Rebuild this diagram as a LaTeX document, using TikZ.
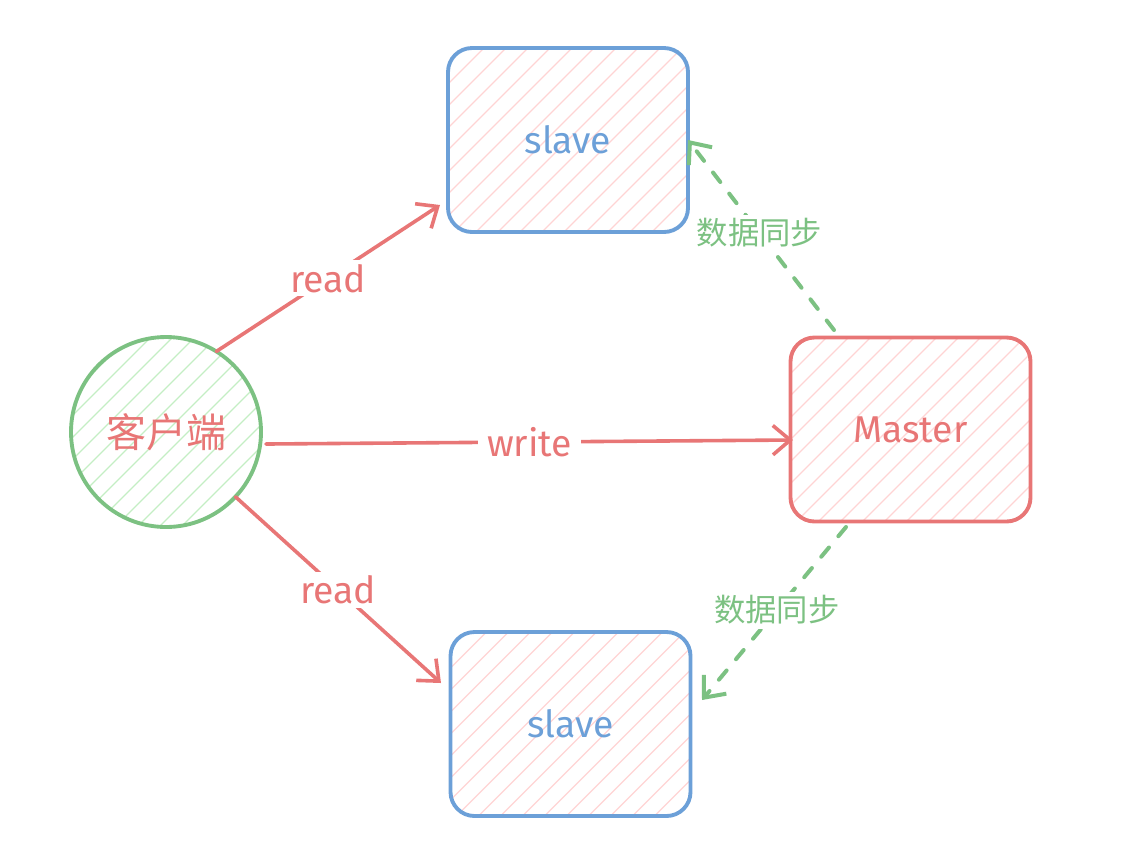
\documentclass[tikz,border=0pt]{standalone}
\usepackage{fontspec}
\setmainfont{Fira Sans}
\newfontfamily\cjk{Noto Sans CJK SC}
\usetikzlibrary{arrows.meta,calc}
\definecolor{exred}{RGB}{232,118,118}
\definecolor{exblue}{RGB}{108,160,216}
\definecolor{exgreen}{RGB}{124,193,130}
\definecolor{hpink}{RGB}{255,212,212}
\definecolor{hgreen}{RGB}{196,238,196}
\tikzset{
  hatchline/.style={line width=0.9pt},
  hatched/.style={path picture={%
    \foreach \i in {-308,-286,...,308}
      \draw[hatchline, #1] ($(path picture bounding box.center)+(\i-160,160)$) -- ++(320,-320);}},
  box/.style={draw, line width=2.9pt, rounded corners=18pt, minimum width=180pt, minimum height=138pt, outer sep=0pt, hatched=hpink, font=\fontsize{28}{32}\selectfont},
  slavebox/.style={box, draw=exblue, text=exblue},
  masterbox/.style={box, draw=exred, text=exred},
  client/.style={circle, draw=exgreen, line width=2.9pt, minimum size=142.5pt, outer sep=0pt, hatched=hgreen, text=exred, font=\cjk\fontsize{30}{34}\selectfont},
  readarrow/.style={draw=exred, line width=2.7pt, line cap=round, -{Straight Barb[length=13pt,width=22pt,line width=2.7pt]}},
  syncarrow/.style={draw=exgreen, line width=3pt, line cap=round, dash pattern=on 9pt off 11pt, -{Straight Barb[length=13pt,width=22pt,line width=3pt]}},
  lbl/.style={fill=white, text=exred, inner xsep=7pt, inner ysep=3pt, font=\fontsize{28}{32}\selectfont},
  synclbl/.style={fill=white, text=exgreen, inner sep=3pt, font=\cjk\fontsize{23.5}{27}\selectfont}
}
\begin{document}
\begin{tikzpicture}[x=0.75pt,y=-0.75pt]
\useasboundingbox (0,0) rectangle (1144,844);
\node[slavebox] (s1) at (568,140) {slave};
\node[slavebox] (s2) at (570.5,724) {slave};
\node[masterbox] (m) at (910.5,429.5) {Master};
\node[client] (c) at (166,432) {客户端};
\coordinate (r1end) at (440,205);
\coordinate (r2end) at (441,683);
\coordinate (wstart) at (266,444);
\coordinate (wend) at (793,440);
\coordinate (g1start) at (834,330);
\coordinate (g1end) at (688,140);
\coordinate (g2start) at (846,527);
\coordinate (g2end) at (702,700);
\draw[readarrow] (c.58) -- node[lbl] {read} (r1end);
\draw[readarrow] (wstart) -- node[lbl] {write} (wend);
\draw[readarrow] (c.-43) -- node[lbl] {read} (r2end);
\draw[syncarrow] (g1start) -- node[synclbl, pos=0.51] {数据同步} (g1end);
\draw[syncarrow] (g2start) -- node[synclbl, pos=0.48] {数据同步} (g2end);
\end{tikzpicture}
\end{document}
